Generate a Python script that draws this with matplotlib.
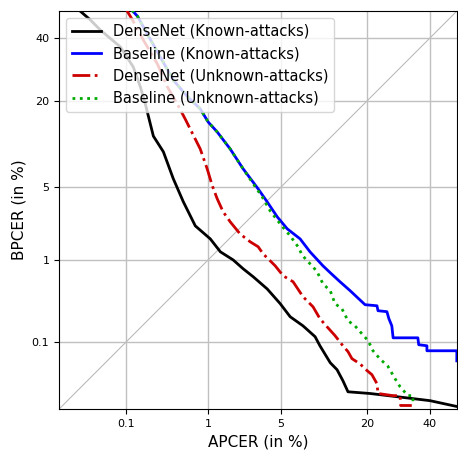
import numpy as np
import matplotlib
matplotlib.use("Agg")
import matplotlib.pyplot as plt
from matplotlib.ticker import FixedLocator, FixedFormatter, NullLocator
from statistics import NormalDist
import math

# ---- data (percent) ----
dn_known_apcer = [0.017, 0.0306, 0.0429, 0.0827, 0.124, 0.154, 0.179, 0.227, 0.303, 0.400, 0.526, 0.722,
                  1.055, 1.35, 1.82, 2.28, 2.84, 3.80, 4.92, 5.94, 7.5, 9.23, 10.0, 11.8, 13.1, 14.3, 15.4,
                  20.8, 28.7, 40.0, 50.3]
dn_known_bpcer = [52.0, 46.6, 42.9, 36.8, 30.0, 23.9, 19.2, 12.1, 9.4, 5.85, 3.73, 2.23,
                  1.66, 1.22, 1.0, 0.80, 0.65, 0.47, 0.312, 0.214, 0.163, 0.117, 0.088, 0.0507, 0.0402, 0.0276, 0.0187,
                  0.0176, 0.0157, 0.0136, 0.0109]

bl_known_apcer = [0.100, 0.121, 0.141, 0.190, 0.278, 0.400, 0.585, 0.82, 1.00, 1.25, 1.70, 2.28, 3.15, 3.80,
                  4.64, 5.62, 7.12, 8.47, 10.5, 11.8, 13.7, 15.9, 18.7, 19.5, 22.7, 23.0, 25.6, 26.2, 27.1,
                  27.5, 35.7, 36.0, 38.9, 38.9, 49.9, 49.9]
bl_known_bpcer = [52.0, 50.0, 48.0, 41.4, 33.3, 25.9, 21.2, 18.0, 14.97, 12.9, 9.85, 7.0, 4.82, 3.72,
                  2.72, 2.09, 1.66, 1.22, 0.863, 0.722, 0.570, 0.447, 0.329, 0.303, 0.294, 0.255, 0.248, 0.202, 0.163,
                  0.113, 0.113, 0.091, 0.088, 0.075, 0.075, 0.054]

dn_unknown_apcer = [0.097, 0.121, 0.169, 0.255, 0.339, 0.447, 0.554, 0.666, 0.82, 0.977, 1.11, 1.25, 1.44, 1.70,
                    2.13, 2.66, 3.15, 3.50, 4.03, 4.46, 5.20, 6.27, 7.5, 8.92, 10.0, 11.2, 12.7, 14.3, 15.4,
                    16.3, 18.2, 20.0, 21.3, 22.7, 23.0, 27.4, 29.7, 29.9, 33.6]
dn_unknown_bpcer = [51.0, 46.6, 39.2, 31.0, 23.9, 19.2, 15.6, 12.7, 9.85, 7.0, 5.10, 3.96, 3.03, 2.44,
                    1.86, 1.55, 1.38, 1.16, 0.98, 0.863, 0.668, 0.570, 0.379, 0.285, 0.202, 0.159, 0.121, 0.088, 0.073,
                    0.058, 0.049, 0.039, 0.034, 0.0249, 0.0176, 0.0163, 0.0163, 0.0114, 0.0114]

bl_unknown_apcer = [0.100, 0.121, 0.141, 0.190, 0.278, 0.400, 0.585, 0.82, 1.00, 1.25, 1.70, 2.28, 2.84, 3.43,
                    4.03, 4.92, 5.94, 6.86, 7.38, 8.05, 8.77, 9.55, 10.5, 11.8, 12.7, 14.1, 15.4, 17.0, 18.7,
                    20.3, 21.6, 23.5, 25.9, 28.1, 29.7, 32.3, 34.0, 34.0]
bl_unknown_bpcer = [52.0, 50.0, 48.0, 41.4, 33.3, 25.9, 21.2, 18.0, 14.97, 12.9, 9.85, 7.0, 5.31, 4.12,
                    3.09, 2.33, 1.78, 1.38, 1.13, 0.98, 0.863, 0.74, 0.54, 0.447, 0.312, 0.270, 0.190, 0.163, 0.128,
                    0.103, 0.075, 0.058, 0.045, 0.0296, 0.0224, 0.0163, 0.0163, 0.0118]

ticks = [0.1, 1, 5, 20, 40]
tick_labels = ["0.1", "1", "5", "20", "40"]
lims = [0.01, 50]

# ---- probit scale ----
_nd = NormalDist()
_ppf = np.vectorize(lambda p: _nd.inv_cdf(min(max(p, 1e-12), 1 - 1e-12)), otypes=[float])
_cdf = np.vectorize(lambda z: 0.5 * (1 + math.erf(z / math.sqrt(2))), otypes=[float])

def forward(x):
    x = np.asarray(x, dtype=float)
    return _ppf(x / 100.0)

def inverse(z):
    z = np.asarray(z, dtype=float)
    return _cdf(z) * 100.0

fig = plt.figure(figsize=(4.58, 4.51), dpi=100)
ax = fig.add_axes([0.129, 0.093, 0.869, 0.883])
ax.set_xscale('function', functions=(forward, inverse))
ax.set_yscale('function', functions=(forward, inverse))

ax.plot(lims, lims, color='#bbbbbb', lw=0.8, zorder=1)
ax.plot(dn_known_apcer, dn_known_bpcer, color='black', lw=2, label='DenseNet (Known-attacks)', zorder=3)
ax.plot(bl_known_apcer, bl_known_bpcer, color='#0000ff', lw=2, label='Baseline (Known-attacks)', zorder=3)
ax.plot(dn_unknown_apcer, dn_unknown_bpcer, color='#cc0000', lw=2, ls='-.', label='DenseNet (Unknown-attacks)', zorder=4)
ax.plot(bl_unknown_apcer, bl_unknown_bpcer, color='#00aa00', lw=2, ls=':', label='Baseline (Unknown-attacks)', zorder=4)

ax.set_xlim(lims)
ax.set_ylim(lims)
for axis in (ax.xaxis, ax.yaxis):
    axis.set_major_locator(FixedLocator(ticks))
    axis.set_major_formatter(FixedFormatter(tick_labels))
    axis.set_minor_locator(NullLocator())
ax.tick_params(labelsize=8)
ax.grid(True, color='#c0c0c0', lw=1)
ax.set_axisbelow(True)
ax.set_xlabel('APCER (in %)', fontsize=11)
ax.set_ylabel('BPCER (in %)', fontsize=11)
ax.legend(loc='upper left', fontsize=10.5, handlelength=2.0)

fig.savefig('out.png', dpi=100)
